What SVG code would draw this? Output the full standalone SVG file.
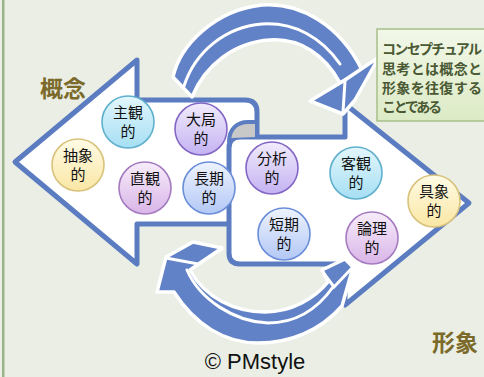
<svg xmlns="http://www.w3.org/2000/svg" width="484" height="377" viewBox="0 0 484 377">
<style>
.big{fill:#fff;stroke:#5B7CC0;stroke-width:5;stroke-linejoin:round}
.curve{fill:#6282C8;stroke:#fff;stroke-width:3.5;stroke-linejoin:round}
.sep{fill:none;stroke:#fff;stroke-width:3;stroke-linecap:round}
.n text{font-family:"Noto Sans CJK JP","Noto Sans",sans-serif;font-size:15px;fill:#111;text-anchor:middle}
.n circle{stroke-width:1.6}
.cyan{fill:url(#gCyan);stroke:#5FB0CC}
.lav{fill:url(#gLav);stroke:#8466C4}
.yel{fill:url(#gYel);stroke:#D8C27C}
.pink{fill:url(#gPink);stroke:#A57BC0}
.blu{fill:url(#gBlu);stroke:#6A8ED8}
.lbl{font-family:"Noto Sans CJK JP",sans-serif;font-size:23px;font-weight:bold;fill:#7B6A2A}
.call{font-family:"Noto Sans CJK JP",sans-serif;font-size:14px;font-weight:bold;fill:#4A5933}
</style>
<defs>
<linearGradient id="gCyan" x1="0" y1="0" x2="0" y2="1"><stop offset="0" stop-color="#E3F6FC"/><stop offset="1" stop-color="#A6DFF4"/></linearGradient>
<linearGradient id="gLav" x1="0" y1="0" x2="0" y2="1"><stop offset="0" stop-color="#F1ECFC"/><stop offset="1" stop-color="#C3B2F2"/></linearGradient>
<linearGradient id="gYel" x1="0" y1="0" x2="0" y2="1"><stop offset="0" stop-color="#FFFBE6"/><stop offset="1" stop-color="#FAE7A4"/></linearGradient>
<linearGradient id="gPink" x1="0" y1="0" x2="0" y2="1"><stop offset="0" stop-color="#F7EDFA"/><stop offset="1" stop-color="#D9B5E8"/></linearGradient>
<linearGradient id="gBlu" x1="0" y1="0" x2="0" y2="1"><stop offset="0" stop-color="#EEF3FE"/><stop offset="1" stop-color="#B3C8F6"/></linearGradient>
<linearGradient id="gBox" x1="0" y1="0" x2="0" y2="1"><stop offset="0" stop-color="#F2F7E8"/><stop offset="1" stop-color="#DCEBC6"/></linearGradient>
</defs>
<rect width="484" height="377" fill="#EAEEE5"/>
<rect x="2" y="0" width="2.5" height="377" fill="#9CB38A"/>

<g id="connectors">
  <g id="left-arrow">
    <path class="big" d="M137,60 L15,162 L137,264 L137,224 L257,224 L257,112 Q257,100 245,100 L137,100 Z"/>
  </g>
  <g id="right-arrow">
    <path class="big" d="M240,137 L345,137 L345,104 L469,203 L345,305 L345,264 L240,264 Q229,264 229,253 L229,148 Q229,137 240,137 Z"/>
    <path d="M231,138 C231,128 238,123 248,123 L255,123 L255,137 Z" fill="#C8C8C8"/>
    <path d="M229,142 C229,129 237,122 248,122 L258,122" fill="none" stroke="#5B7CC0" stroke-width="4"/>
  </g>
  <g id="top-curved-arrow">
    <path class="curve" d="M173,77 C180,45 215,10 262,5 C300,2 340,25 362,70 L340,83 C325,55 300,38 270,40 C235,42 205,65 192,97 Z"/>
    <path class="sep" d="M184,86 C195,52 225,27 262,24 C295,22 322,38 340,64"/>
    <path class="curve" d="M310,101 L345,80 L379,57 L355,100 L343,114 Z"/>
    <path class="sep" d="M345,81 L343,112" stroke-width="2.5"/>
  </g>
  <g id="bottom-curved-arrow">
    <path class="curve" d="M190,270 C205,298 235,312 265,312 C292,312 315,298 328,282 L322,270 L345,259 L353,267 L342,306 C320,331 290,343 258,343 C225,343 195,325 174,292 L157,292 L166,257 L193,242 L222,248 Z"/>
    <path class="sep" d="M187,270 C200,300 235,322 268,323 C295,323 316,311 333,287"/>
    <path class="sep" d="M166,258 L198,264 L222,249" stroke-width="2.5"/>
    <path class="sep" d="M322,271 L334,287 L352,268" stroke-width="2.5"/>
  </g>
</g>

<g id="node-chuushou" class="n"><circle class="yel" cx="78" cy="165" r="26"/><text x="78" y="161">抽象</text><text x="78" y="180">的</text></g>
<g id="node-shukan" class="n"><circle class="cyan" cx="128" cy="122" r="26"/><text x="128" y="118">主観</text><text x="128" y="137">的</text></g>
<g id="node-chokkan" class="n"><circle class="pink" cx="145" cy="188" r="26"/><text x="145" y="184">直観</text><text x="145" y="203">的</text></g>
<g id="node-taikyoku" class="n"><circle class="lav" cx="201" cy="129" r="26"/><text x="201" y="125">大局</text><text x="201" y="144">的</text></g>
<g id="node-chouki" class="n"><circle class="blu" cx="209" cy="188" r="26"/><text x="209" y="184">長期</text><text x="209" y="203">的</text></g>
<g id="node-bunseki" class="n"><circle class="lav" cx="272" cy="168" r="26"/><text x="272" y="164">分析</text><text x="272" y="183">的</text></g>
<g id="node-tanki" class="n"><circle class="blu" cx="284" cy="234" r="26"/><text x="284" y="230">短期</text><text x="284" y="249">的</text></g>
<g id="node-kyakkan" class="n"><circle class="cyan" cx="356" cy="173" r="26"/><text x="356" y="169">客観</text><text x="356" y="188">的</text></g>
<g id="node-ronri" class="n"><circle class="pink" cx="372" cy="238" r="26"/><text x="372" y="234">論理</text><text x="372" y="253">的</text></g>
<g id="node-gushou" class="n"><circle class="yel" cx="434" cy="201" r="26"/><text x="434" y="197">具象</text><text x="434" y="216">的</text></g>

<g id="label-gainen"><text class="lbl" x="40" y="97">概念</text></g>
<g id="label-keishou"><text class="lbl" x="432" y="351">形象</text></g>

<g id="callout">
  <rect x="377" y="29" width="120" height="92" fill="url(#gBox)" stroke="#A8BF88" stroke-width="1.5"/>
  <text class="call" x="382" y="54" textLength="100">コンセプチュアル</text>
  <text class="call" x="382" y="74" textLength="100">思考とは概念と</text>
  <text class="call" x="382" y="93" textLength="100">形象を往復する</text>
  <text class="call" x="382" y="112" textLength="60">ことである</text>
</g>

<g id="copyright"><text x="255" y="369" font-family="Liberation Sans,Arial,sans-serif" font-size="22" fill="#111" text-anchor="middle">© PMstyle</text></g>
</svg>
